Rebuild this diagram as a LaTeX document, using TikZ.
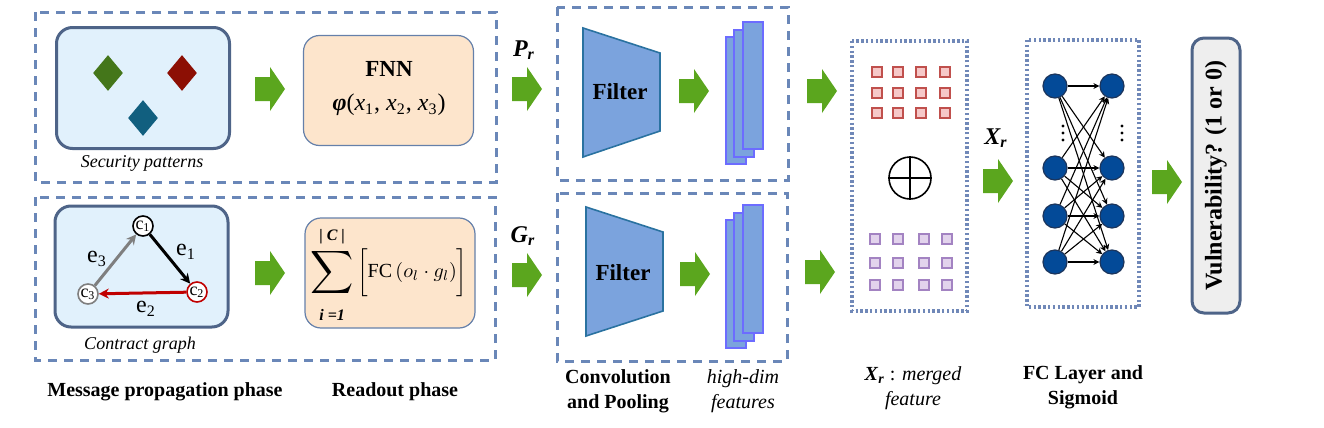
\documentclass[tikz,border=0pt]{standalone}
\usepackage{fontspec}
\setmainfont{Liberation Serif}
\usepackage{amsmath}
\usepackage{graphicx}
\usepackage{xcolor}
\usetikzlibrary{shapes.geometric}
\usetikzlibrary{arrows.meta}

\definecolor{boxline}{HTML}{6A87B8}
\definecolor{dotline}{HTML}{7088B8}
\definecolor{paneline}{HTML}{4E6488}
\definecolor{panefill}{HTML}{E1F1FC}
\definecolor{peachfill}{HTML}{FDE5CC}
\definecolor{peachline}{HTML}{6580AA}
\definecolor{arrowgreen}{HTML}{5BA61E}
\definecolor{filterfill}{HTML}{7BA3DD}
\definecolor{filterline}{HTML}{2A72A0}
\definecolor{mapline}{HTML}{6C6CFF}
\definecolor{gemgreen}{HTML}{44761A}
\definecolor{gemred}{HTML}{8C0F04}
\definecolor{gemblue}{HTML}{115F7F}
\definecolor{edgered}{HTML}{C00000}
\definecolor{edgegrey}{HTML}{7F7F7F}
\definecolor{sqred}{HTML}{F6C8C8}
\definecolor{sqredline}{HTML}{C0504D}
\definecolor{sqpurple}{HTML}{E2D3EC}
\definecolor{sqpurpleline}{HTML}{A383C2}
\definecolor{neuronfill}{HTML}{034A98}
\definecolor{neuronline}{HTML}{1C355C}
\definecolor{outfill}{HTML}{EEEEEE}

\begin{document}
\begin{tikzpicture}[x=0.5pt, y=-0.5pt]
        % ================= 样式定义 =================
        \tikzset{
            phasebox/.style={draw=boxline, line width=1.5pt, dash pattern=on 4.5pt off 3.5pt},
            layerbox/.style={draw=dotline, line width=1.6pt, dash pattern=on 1.2pt off 1.2pt},
            pane/.style={draw=paneline, line width=1.5pt, fill=panefill, rounded corners=8pt, minimum width=86.5pt, minimum height=60.5pt},
            readbox/.style={draw=peachline, line width=0.6pt, fill=peachfill, rounded corners=8pt, minimum width=85pt, minimum height=55pt},
            gem/.style={diamond, minimum width=15pt, minimum height=18pt, inner sep=0pt},
            cnode/.style={circle, draw, line width=0.8pt, fill=white, minimum size=10pt, inner sep=0pt, font=\fontsize{9}{9}\selectfont},
            flow/.style={line width=1.5pt, -{Stealth[length=5pt,width=5pt]}},
            garrow/.pic={\fill[arrowgreen] (0,-12) -- (15,-12) -- (15,-22) -- (30,0) -- (15,22) -- (15,12) -- (0,12) -- cycle;},
            filter/.style={fill=filterfill, draw=filterline, line width=0.8pt},
            fmap/.style={fill=filterfill, draw=mapline, line width=0.8pt},
            redsq/.style={draw=sqredline, fill=sqred, line width=0.6pt, minimum size=5pt, inner sep=0pt},
            purplesq/.style={draw=sqpurpleline, fill=sqpurple, line width=0.6pt, minimum size=5pt, inner sep=0pt},
            neuron/.style={circle, draw=neuronline, fill=neuronfill, line width=0.6pt, minimum size=12pt, inner sep=0pt},
            wire/.style={line width=0.55pt, -{Stealth[length=3pt,width=3pt]}},
            caption/.style={font=\fontsize{10}{12.5}\selectfont\bfseries, align=center},
            note/.style={font=\fontsize{10}{12.5}\selectfont, align=center},
            label/.style={font=\fontsize{12}{12}\selectfont\bfseries\itshape}
        }
        \useasboundingbox (0,0) rectangle (1324,428);

        % ================= 左侧:消息传播与读出 =================
        \draw[phasebox] (35,12) rectangle (496,182);
        \draw[phasebox] (35,197) rectangle (495,360);

        % 1. 安全模式
        \node[pane] (sec) at (143,88) {};
        \node[gem, fill=gemgreen] (g1) at (108,73) {};
        \node[gem, fill=gemred]   (g2) at (182,73) {};
        \node[gem, fill=gemblue]  (g3) at (143,118) {};
        \node[note, font=\fontsize{9}{9}\selectfont\itshape] (sectxt) at (142,163) {Security patterns};

        % 2. 合约图 c1 -> c2 -> c3 -> c1
        \node[pane] (cg) at (141.5,266.5) {};
        \node[cnode, draw=black]    (c1) at (143,226) {c\textsubscript{1}};
        \node[cnode, draw=edgered]  (c2) at (197,292) {c\textsubscript{2}};
        \node[cnode, draw=edgegrey] (c3) at (88,294)  {c\textsubscript{3}};
        \draw[flow, black]    (c1) -- (c2);
        \draw[flow, edgered]  (c2) -- (c3);
        \draw[flow, edgegrey] (c3) -- (c1);
        \node[font=\fontsize{12}{12}\selectfont] (e1) at (186,252) {e\textsubscript{1}};
        \node[font=\fontsize{12}{12}\selectfont] (e2) at (146,309) {e\textsubscript{2}};
        \node[font=\fontsize{12}{12}\selectfont] (e3) at (97,259)  {e\textsubscript{3}};
        \node[note, font=\fontsize{9}{9}\selectfont\itshape] (cgtxt) at (140,345) {Contract graph};

        % 3. FNN 与读出函数
        \pic at (255,89) {garrow};
        \pic at (255,273) {garrow};
        \node[readbox] (fnn) at (388.5,90.5) {};
        \node[font=\fontsize{11.5}{12}\selectfont\bfseries] (fnntxt) at (389,69) {FNN};
        \node[font=\fontsize{12}{12}\selectfont] (phi) at (389,105)
            {\textbf{\textit{φ}}(\textit{x}\textsubscript{1}, \textit{x}\textsubscript{2}, \textit{x}\textsubscript{3})};
        \node[readbox] (readout) at (390,273) {};
        \node[font=\fontsize{10}{12}\selectfont] (sum) at (389,275)
            {$\mathop{\vcenter{\hbox{\scalebox{1.5}{$\displaystyle\sum$}}}}\limits_{\rule{0pt}{10pt}\mbox{\fontsize{8}{8}\selectfont\bfseries\itshape i =1}}^{\mbox{\fontsize{8}{8}\selectfont\bfseries\itshape | C |}\rule[-3pt]{0pt}{0pt}}\bigg[\mbox{FC}\,(o_l\cdot g_l)\bigg]$};

        \node[caption] (mpp) at (165,392) {Message propagation phase};
        \node[caption] (rop) at (395,392) {Readout phase};

        % ================= 中间:卷积与池化 =================
        \node[label] (pr) at (524,50)  {P\textsubscript{r}};
        \node[label] (gr) at (523,236) {G\textsubscript{r}};
        \pic at (512,89) {garrow};
        \pic at (512,275) {garrow};
        \draw[phasebox] (557,7) rectangle (788,180);
        \draw[phasebox] (557,193) rectangle (787,361);

        % 1. 滤波器 (梯形)
        \draw[filter] (583,28) -- (660,53) -- (660,131) -- (583,157) -- cycle;
        \node[font=\fontsize{11.5}{12}\selectfont\bfseries] (filtp) at (620,92) {Filter};
        \draw[filter] (586,207) -- (663,232) -- (663,311) -- (586,336) -- cycle;
        \node[font=\fontsize{11.5}{12}\selectfont\bfseries] (filtg) at (623,273) {Filter};

        % 2. 高维特征图 (三层叠放)
        \pic at (679,91) {garrow};
        \pic at (680,274) {garrow};
        \foreach \dx/\dy in {0/0, 8/-7, 17/-15} {
            \draw[fmap] (726+\dx,37+\dy) rectangle (746+\dx,164+\dy);
            \draw[fmap] (726+\dx,220+\dy) rectangle (746+\dx,348+\dy);
        }

        \node[caption] (conv) at (618,391) {Convolution\\and Pooling};
        \node[note, font=\fontsize{10}{12.5}\selectfont\itshape] (hdf) at (743,391) {high-dim\\features};

        % ================= 右侧:特征合并与全连接 =================
        \pic at (807,91) {garrow};
        \pic at (805,272) {garrow};
        \draw[layerbox] (852,41) rectangle (967,311);

        % 1. 两组特征方块
        \foreach \i/\x in {1/877, 2/898, 3/921, 4/945} {
            \foreach \j/\y in {1/72, 2/93, 3/113} {
                \node[redsq] (sqp\i\j) at (\x,\y) {};
            }
        }
        \foreach \i/\x in {1/875, 2/898, 3/924, 4/947} {
            \foreach \j/\y in {1/239, 2/263, 3/285} {
                \node[purplesq] (sqg\i\j) at (\x,\y) {};
            }
        }

        % 2. 拼接符号
        \node[circle, draw, line width=0.8pt, minimum size=21pt, inner sep=0pt] (merge) at (910,178) {};
        \draw[line width=0.8pt] (merge.north) -- (merge.south) (merge.west) -- (merge.east);

        \node[label] (xr) at (996,138) {X\textsubscript{r}};
        \pic at (983,181) {garrow};

        % 3. 全连接层
        \draw[layerbox] (1027,40) rectangle (1139,307);
        \foreach \i/\y in {1/86, 2/168, 3/216, 4/262} {
            \node[neuron] (hid\i) at (1055,\y) {};
            \node[neuron] (fc\i)  at (1112,\y) {};
        }
        \foreach \i in {1,...,4} {
            \foreach \j in {1,...,4} {
                \draw[wire] (hid\i) -- (fc\j);
            }
        }
        \foreach \y in {126,133,140} {
            \fill (1063,\y) circle[radius=0.8pt];
            \fill (1122,\y) circle[radius=0.8pt];
        }

        % 4. 输出
        \pic at (1152,182) {garrow};
        \node[draw=paneline, line width=1.5pt, fill=outfill, rounded corners=6pt, rotate=90,
              minimum width=137.5pt, minimum height=24pt, font=\fontsize{12}{12}\selectfont\bfseries] (out) at (1216,175.5)
              {Vulnerability? (1 or 0)};

        \node[note] (xrtxt) at (913,388) {\textbf{\textit{X}\textsubscript{\textit{r}}} : \textit{merged}\\\textit{feature}};
        \node[caption] (fctxt) at (1083,387) {FC Layer and\\Sigmoid};

\end{tikzpicture}
\end{document}
